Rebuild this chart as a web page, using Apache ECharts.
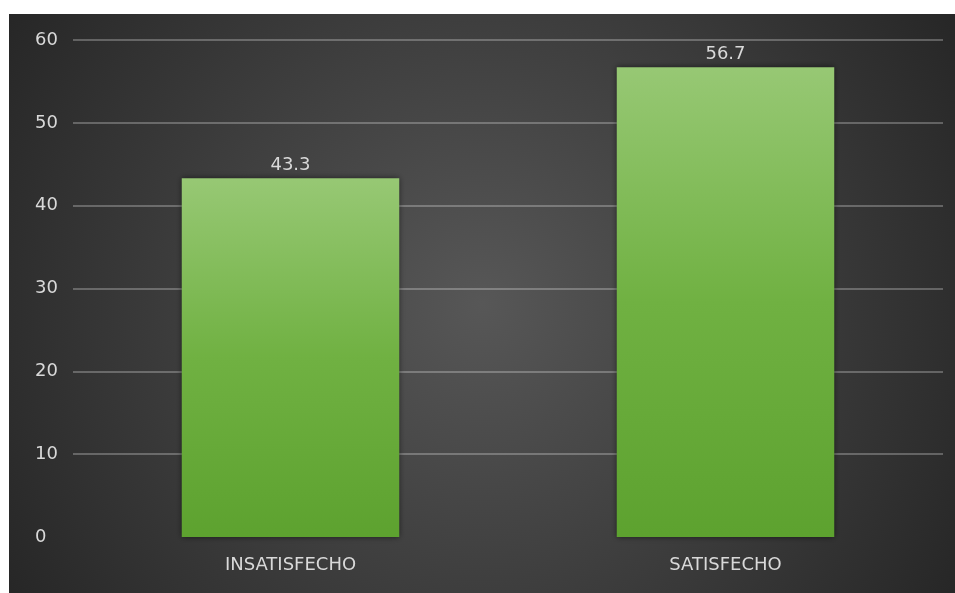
<!DOCTYPE html>
<html>
<head>
<meta charset="utf-8">
<script src="https://cdn.jsdelivr.net/npm/echarts@6/dist/echarts.min.js"></script>
<style>
  html, body { margin: 0; padding: 0; background: #ffffff; }
  #chart { position: absolute; left: 9px; top: 14px; width: 946px; height: 579px; }
</style>
</head>
<body>
<div id="chart"></div>
<script>
// Satisfaction survey results (percent)
const categories = ['INSATISFECHO', 'SATISFECHO'];
const values = [43.3, 56.7];
const yTicks = [0, 10, 20, 30, 40, 50, 60];

const gridColor = 'rgba(255,255,255,0.26)';
const textColor = '#d9d9d9';
const fontFamily = '"DejaVu Sans", "Open Sans", sans-serif';
const fontSize = 18;

const chart = echarts.init(document.getElementById('chart'));
chart.setOption({
  backgroundColor: {
    type: 'radial', x: 0.5, y: 0.5, r: 0.95,
    colorStops: [
      { offset: 0, color: '#575757' },
      { offset: 1, color: '#272727' }
    ]
  },
  grid: { left: 64, right: 12, top: 26, bottom: 56 },
  xAxis: {
    type: 'category',
    data: categories,
    axisLine: { show: false },
    axisTick: { show: false },
    axisLabel: { color: textColor, fontSize: fontSize, fontFamily: fontFamily, margin: 19 }
  },
  yAxis: {
    type: 'value',
    min: yTicks[0],
    max: yTicks[yTicks.length - 1],
    interval: yTicks[1] - yTicks[0],
    axisLine: { show: false },
    axisTick: { show: false },
    axisLabel: { color: textColor, fontSize: fontSize, fontFamily: fontFamily, align: 'left', margin: 38 },
    splitLine: {
      lineStyle: {
        width: 2,
        // baseline at 0 is not drawn
        color: yTicks.map((t, i) => i === 0 ? 'rgba(0,0,0,0)' : gridColor)
      }
    }
  },
  series: [{
    type: 'bar',
    data: values,
    barWidth: '50%',
    itemStyle: {
      color: {
        type: 'linear', x: 0, y: 0, x2: 0, y2: 1,
        colorStops: [
          { offset: 0, color: '#97c874' },
          { offset: 0.5, color: '#70b142' },
          { offset: 1, color: '#5da22f' }
        ]
      },
      shadowColor: 'rgba(0,0,0,0.55)',
      shadowBlur: 6
    },
    label: {
      show: true,
      position: 'top',
      distance: 4,
      color: textColor,
      fontSize: fontSize,
      fontFamily: fontFamily,
      formatter: p => p.value.toFixed(1)
    }
  }]
});
</script>
</body>
</html>
